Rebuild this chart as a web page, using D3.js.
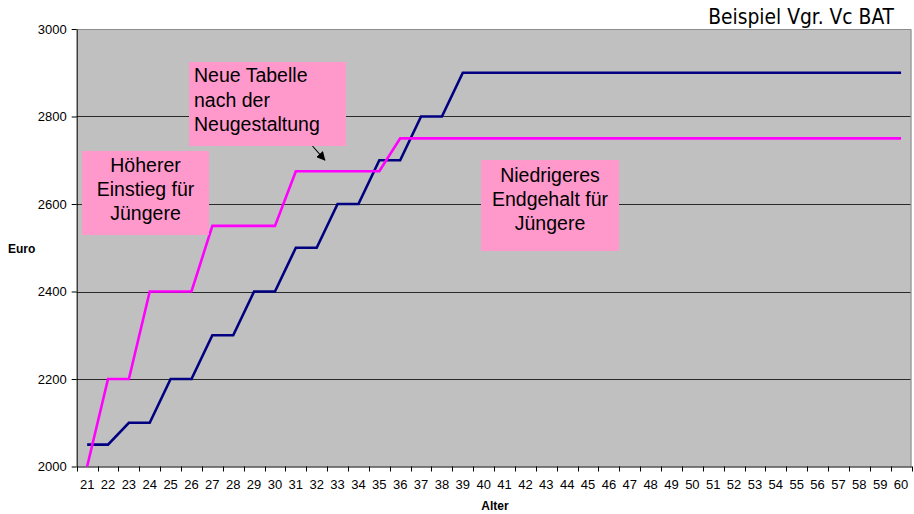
<!DOCTYPE html>
<html>
<head>
<meta charset="utf-8">
<script src="https://cdn.jsdelivr.net/npm/d3@7"></script>
<style>
  html, body { margin: 0; padding: 0; background: #ffffff; }
  svg { display: block; }
  text { font-family: "Liberation Sans", Arial, sans-serif; fill: #000; }
</style>
</head>
<body>
<svg id="chart" width="914" height="514"></svg>
<script>
// Alter (Lebensjahr) auf der Kategorienachse
const ages = d3.range(21, 61);

// Bisherige Tabelle (BAT Vc), Euro je Alter
const oldTable = [
  2050, 2050, 2100, 2100, 2200, 2200, 2300, 2300, 2400, 2400,
  2500, 2500, 2600, 2600, 2700, 2700, 2800, 2800, 2900, 2900,
  2900, 2900, 2900, 2900, 2900, 2900, 2900, 2900, 2900, 2900,
  2900, 2900, 2900, 2900, 2900, 2900, 2900, 2900, 2900, 2900
];

// Neue Tabelle nach der Neugestaltung, Euro je Alter
const newTable = [
  2000, 2200, 2200, 2400, 2400, 2400, 2550, 2550, 2550, 2550,
  2675, 2675, 2675, 2675, 2675, 2750, 2750, 2750, 2750, 2750,
  2750, 2750, 2750, 2750, 2750, 2750, 2750, 2750, 2750, 2750,
  2750, 2750, 2750, 2750, 2750, 2750, 2750, 2750, 2750, 2750
];

const yTicks = [2000, 2200, 2400, 2600, 2800, 3000];

const titleText = "Beispiel Vgr. Vc BAT";
const yTitle = "Euro";
const xTitle = "Alter";

// Hinweisfelder: Textzeilen und Ausrichtung
const notes = [
  { lines: ["Neue Tabelle", "nach der", "Neugestaltung"], align: "start" },
  { lines: ["Höherer", "Einstieg für", "Jüngere"], align: "middle" },
  { lines: ["Niedrigeres", "Endgehalt für", "Jüngere"], align: "middle" }
];

const svg = d3.select("#chart");
const plot = { left: 76.7, right: 911.5, top: 29, bottom: 466.5 };

const x = d3.scaleBand().domain(ages).range([plot.left, plot.right]).padding(0);
const cx = d => x(d) + x.bandwidth() / 2;
const y = d3.scaleLinear().domain([2000, 3000]).range([plot.bottom, plot.top]);

// Hintergrund der Zeichenfläche
svg.append("rect")
  .attr("x", plot.left).attr("y", plot.top)
  .attr("width", plot.right - plot.left).attr("height", plot.bottom - plot.top)
  .attr("fill", "#c0c0c0");

// Rahmen oben und rechts
svg.append("path")
  .attr("d", `M${plot.left},${plot.top + 0.5}H${plot.right - 0.5}V${plot.bottom}`)
  .attr("fill", "none").attr("stroke", "#8c8c8c").attr("stroke-width", 1);

// Gitterlinien
svg.append("g").selectAll("line")
  .data(yTicks.filter(v => v > 2000 && v < 3000))
  .join("line")
  .attr("x1", plot.left).attr("x2", plot.right - 1)
  .attr("y1", d => Math.round(y(d)) + 0.5).attr("y2", d => Math.round(y(d)) + 0.5)
  .attr("stroke", "#2a2a2a").attr("stroke-width", 1);

// y-Achse
const yAxis = svg.append("g")
  .attr("transform", `translate(${plot.left},0)`)
  .call(d3.axisLeft(y).tickValues(yTicks).tickFormat(d3.format("d"))
    .tickSize(5).tickPadding(5).tickSizeOuter(0));
yAxis.select(".domain").attr("stroke", "#000");
yAxis.selectAll(".tick line").attr("stroke", "#000");
yAxis.selectAll(".tick text")
  .attr("font-size", 13).attr("fill", "#000")
  .style("font-family", '"Liberation Sans", Arial, sans-serif');

// x-Achse: Beschriftung mittig, Striche zwischen den Kategorien
const xAxis = svg.append("g")
  .attr("transform", `translate(0,${plot.bottom})`)
  .call(d3.axisBottom(x).tickSize(0).tickPadding(13).tickSizeOuter(0));
xAxis.select(".domain").attr("stroke", "#000");
xAxis.selectAll(".tick text")
  .attr("font-size", 13).attr("fill", "#000")
  .style("font-family", '"Liberation Sans", Arial, sans-serif');
xAxis.selectAll(".edge")
  .data(ages.map(a => x(a)).concat([plot.right]))
  .join("line")
  .attr("class", "edge")
  .attr("x1", d => Math.round(d) + 0.5).attr("x2", d => Math.round(d) + 0.5)
  .attr("y1", 0).attr("y2", 5)
  .attr("stroke", "#000");

// Achsentitel
svg.append("text")
  .attr("x", 8).attr("y", 253)
  .attr("font-size", 12).attr("font-weight", "bold")
  .text(yTitle);
svg.append("text")
  .attr("x", 495).attr("y", 510).attr("text-anchor", "middle")
  .attr("font-size", 12).attr("font-weight", "bold")
  .text(xTitle);

// Überschrift oben rechts
svg.append("text")
  .attr("x", 894).attr("y", 24).attr("text-anchor", "end")
  .attr("font-size", 20.8)
  .style("font-family", '"DejaVu Sans Condensed", "DejaVu Sans", sans-serif')
  .style("font-stretch", "condensed")
  .text(titleText);

// Gehaltskurven
const line = d3.line().x((d, i) => cx(ages[i])).y(d => y(d));
svg.append("path").datum(oldTable)
  .attr("d", line).attr("fill", "none")
  .attr("stroke", "#000080").attr("stroke-width", 2.6).attr("stroke-linejoin", "miter");
svg.append("path").datum(newTable)
  .attr("d", line).attr("fill", "none")
  .attr("stroke", "#ff00ff").attr("stroke-width", 2.6).attr("stroke-linejoin", "miter");

// Pfeil vom Hinweisfeld zur neuen Kurve
svg.append("defs").append("marker")
  .attr("id", "head").attr("viewBox", "0 0 10 10")
  .attr("refX", 9).attr("refY", 5)
  .attr("markerWidth", 9).attr("markerHeight", 9)
  .attr("markerUnits", "userSpaceOnUse")
  .attr("orient", "auto")
  .append("path").attr("d", "M0,0L10,5L0,10Z").attr("fill", "#000");
svg.append("line")
  .attr("x1", 312.5).attr("y1", 146)
  .attr("x2", cx(31) + 29).attr("y2", y(2675) - 11)
  .attr("stroke", "#000").attr("stroke-width", 1.1)
  .attr("marker-end", "url(#head)");

// Hinweisfelder
const boxes = [
  { x: 189, y: 62, w: 157, h: 84, tx: 194, base: 82, step: 24.5 },
  { x: 82, y: 151, w: 127, h: 84, tx: 145.5, base: 171.5, step: 24 },
  { x: 481, y: 160, w: 138, h: 91, tx: 550, base: 181.5, step: 24.3 }
];
boxes.forEach((b, k) => {
  const g = svg.append("g");
  g.append("rect")
    .attr("x", b.x).attr("y", b.y).attr("width", b.w).attr("height", b.h)
    .attr("fill", "#ff99cc");
  g.selectAll("text").data(notes[k].lines).join("text")
    .attr("x", b.tx).attr("y", (d, i) => b.base + i * b.step)
    .attr("text-anchor", notes[k].align)
    .attr("font-size", 19.5)
    .text(d => d);
});
</script>
</body>
</html>
